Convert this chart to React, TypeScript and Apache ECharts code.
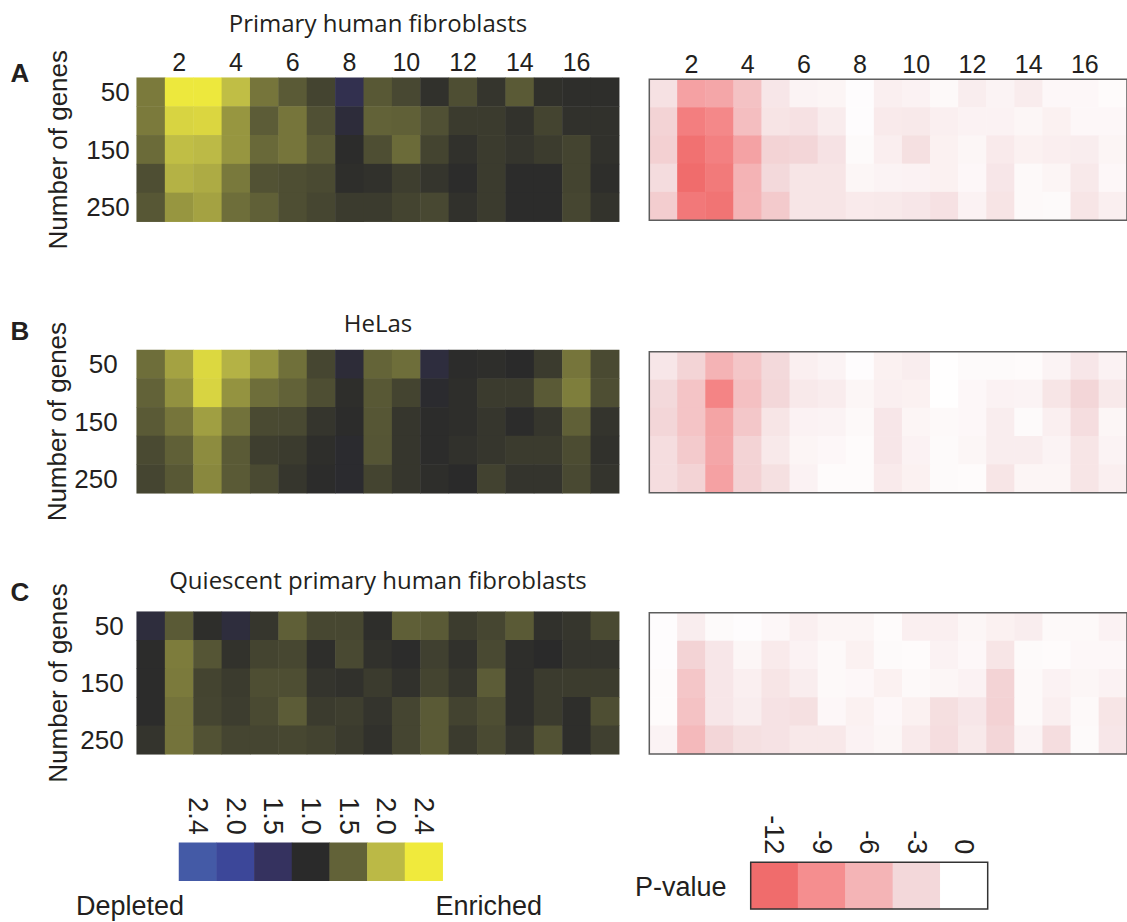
import React, { useEffect, useRef } from "react";
import * as echarts from "echarts";

// ---------- categories ----------
const COLUMNS = ["1", "2", "3", "4", "5", "6", "7", "8", "9", "10", "11", "12", "13", "14", "15", "16", "17"];
const GENE_COUNTS = ["50", "100", "150", "200", "250"];

// ---------- fold change (negative = depleted, positive = enriched) ----------
const FIBRO_FOLD = [
  [1.64, 2.38, 2.38, 2.04, 1.61, 1.43, 1.23, -1.35, 1.41, 1.27, 1.06, 1.32, 1.1, 1.43, 1.05, 1.04, 1.04],
  [1.64, 2.22, 2.24, 1.8, 1.45, 1.61, 1.34, -1.15, 1.5, 1.48, 1.34, 1.15, 1.15, 1.07, 1.23, 1.06, 1.06],
  [1.55, 2.04, 2.01, 1.8, 1.54, 1.61, 1.43, 1.02, 1.32, 1.55, 1.23, 1.06, 1.15, 1.1, 1.16, 1.23, 1.06],
  [1.32, 1.96, 1.92, 1.63, 1.36, 1.32, 1.29, 1.04, 1.06, 1.18, 1.1, 1.02, 1.15, 1.02, 1.02, 1.23, 1.04],
  [1.4, 1.8, 1.87, 1.57, 1.48, 1.32, 1.25, 1.15, 1.15, 1.23, 1.27, 1.06, 1.15, 1.02, 1.02, 1.25, 1.08],
];
const HELA_FOLD = [
  [1.57, 1.87, 2.25, 1.96, 1.78, 1.58, 1.25, -1.13, 1.51, 1.57, -1.19, 1.02, 1.04, 1.0, 1.15, 1.61, 1.29],
  [1.5, 1.77, 2.22, 1.78, 1.57, 1.5, 1.32, 1.04, 1.41, 1.23, -1.05, 1.04, 1.15, 1.15, 1.43, 1.66, 1.32],
  [1.43, 1.61, 1.85, 1.59, 1.29, 1.28, 1.1, 1.02, 1.39, 1.11, 1.02, 1.04, 1.11, 1.02, 1.11, 1.48, 1.09],
  [1.29, 1.48, 1.74, 1.43, 1.18, 1.15, 1.04, -1.05, 1.38, 1.11, 1.02, 1.06, 1.11, 1.15, 1.15, 1.3, 1.06],
  [1.24, 1.41, 1.72, 1.43, 1.29, 1.11, 1.02, -1.05, 1.23, 1.11, 1.04, 1.0, 1.21, 1.09, 1.09, 1.28, 1.09],
];
const QUIES_FOLD = [
  [-1.18, 1.43, 1.04, -1.18, 1.11, 1.47, 1.26, 1.26, 1.04, 1.47, 1.43, 1.16, 1.25, 1.43, 1.06, 1.11, 1.29],
  [1.02, 1.65, 1.38, 1.07, 1.23, 1.26, 1.04, 1.28, 1.06, 1.02, 1.2, 1.06, 1.28, 1.04, 1.0, 1.09, 1.09],
  [1.02, 1.64, 1.23, 1.15, 1.32, 1.32, 1.09, 1.06, 1.15, 1.06, 1.23, 1.11, 1.45, 1.04, 1.15, 1.16, 1.16],
  [1.02, 1.6, 1.24, 1.17, 1.29, 1.45, 1.15, 1.18, 1.09, 1.24, 1.43, 1.22, 1.32, 1.04, 1.15, 1.04, 1.32],
  [1.09, 1.6, 1.36, 1.24, 1.24, 1.26, 1.22, 1.15, 1.06, 1.24, 1.43, 1.15, 1.29, 1.09, 1.36, 1.04, 1.2],
];

// ---------- log10 P-values ----------
const FIBRO_P = [
  [-2.3, -7.5, -7.1, -4.8, -1.9, -0.9, -0.8, -0.2, -1.2, -1.0, -0.5, -1.4, -0.9, -1.5, -0.6, -0.6, -0.3],
  [-3.4, -10.4, -9.5, -5.2, -2.1, -2.3, -1.5, -0.2, -1.6, -1.7, -1.2, -1.0, -1.0, -0.7, -1.1, -0.6, -0.6],
  [-3.7, -11.6, -10.2, -7.4, -3.4, -3.2, -2.2, -0.4, -1.3, -2.4, -1.1, -0.7, -1.6, -1.1, -1.3, -1.4, -0.8],
  [-2.7, -12.0, -10.8, -6.1, -2.9, -2.0, -2.0, -0.7, -0.9, -1.0, -1.1, -0.6, -1.9, -0.5, -0.8, -1.7, -0.6],
  [-3.9, -10.9, -11.3, -6.0, -4.2, -2.0, -2.0, -1.6, -1.7, -1.9, -2.3, -1.0, -2.1, -0.5, -0.4, -2.0, -1.2],
];
const HELA_P = [
  [-1.9, -3.3, -6.1, -4.5, -2.9, -1.2, -0.9, -0.2, -1.1, -1.4, -0.1, -0.4, -0.4, -0.3, -0.9, -1.9, -1.0],
  [-2.9, -4.7, -9.9, -5.0, -3.1, -1.7, -1.5, -0.7, -1.2, -1.1, -0.1, -0.6, -1.0, -0.9, -2.0, -3.2, -1.7],
  [-3.2, -4.7, -7.3, -4.4, -2.0, -1.0, -0.9, -0.5, -1.9, -0.8, -0.5, -0.6, -1.4, -0.4, -1.2, -2.6, -0.7],
  [-2.6, -4.2, -7.1, -3.4, -1.7, -0.8, -0.6, -0.3, -1.9, -1.0, -0.4, -0.7, -1.4, -1.4, -0.9, -2.0, -0.9],
  [-2.6, -3.4, -7.5, -3.5, -2.4, -1.0, -0.3, -0.3, -1.6, -1.1, -0.4, -0.3, -2.0, -0.8, -0.8, -2.0, -1.2],
];
const QUIES_P = [
  [-0.2, -1.4, -0.4, -0.2, -0.6, -1.2, -0.8, -0.8, -0.3, -1.2, -1.2, -0.7, -1.1, -1.4, -0.5, -0.5, -1.0],
  [-0.2, -3.4, -1.9, -0.7, -1.6, -1.0, -0.5, -1.1, -0.4, -0.3, -1.0, -0.6, -2.0, -0.4, -0.3, -0.6, -0.6],
  [-0.3, -4.5, -1.9, -1.2, -2.0, -1.4, -0.5, -0.6, -1.1, -0.5, -0.7, -1.0, -3.4, -0.5, -1.0, -0.7, -1.0],
  [-0.3, -4.8, -1.9, -1.4, -2.2, -2.4, -0.6, -1.1, -0.6, -1.1, -2.5, -1.9, -3.5, -0.5, -1.2, -0.5, -2.0],
  [-0.9, -5.6, -3.2, -2.4, -2.2, -1.8, -1.8, -1.0, -0.7, -1.6, -2.6, -1.7, -3.2, -0.9, -2.6, -0.4, -1.9],
];

// ---------- legends ----------
const FOLD_TICKS = ["2.4", "2.0", "1.5", "1.0", "1.5", "2.0", "2.4"];
const FOLD_TICK_VALUES = [-2.4, -2.0, -1.5, 1.0, 1.5, 2.0, 2.4];
const FOLD_COLORS = ["#445aa6", "#3c4799", "#35325f", "#2a2a2a", "#626238", "#bbb946", "#f0ea3c"];
const P_TICKS = ["-12", "-9", "-6", "-3", "0"];
const P_TICK_VALUES = [-12, -9, -6, -3, 0];
const P_COLORS = ["#f06c6c", "#f58e8f", "#f4b4b6", "#f3d8da", "#ffffff"];

const TITLES = ["Primary human fibroblasts", "HeLas", "Quiescent primary human fibroblasts"];
const LETTERS = ["A", "B", "C"];

// fold change -> position on the (non-linear) legend scale, -3 .. 3
function foldToPos(f: number): number {
  const s = f < 0 ? -1 : 1;
  const a = Math.abs(f);
  const p = a <= 2 ? (a - 1) * 2 : 2 + (a - 2) / 0.4;
  return s * p;
}

function toCells(rows: number[][], map: (v: number) => number) {
  const out: number[][] = [];
  rows.forEach((row, r) => row.forEach((v, c) => out.push([c, r, map(v)])));
  return out;
}

const INK = "#231f20";
const NUM_FONT = "'Liberation Sans', Arial, Helvetica, sans-serif";
const TITLE_FONT = "'Open Sans', 'Noto Sans', sans-serif";

export default function App() {
  const ref = useRef<HTMLDivElement>(null);

  useEffect(() => {
    document.body.style.margin = "0";
    if (!ref.current) return;
    const chart = echarts.init(ref.current, undefined, { renderer: "svg" });

    const LX = 136.7, LW = 482.5, RX = 649.3, RW = 482.8;
    const panels = [
      { fold: FIBRO_FOLD, p: FIBRO_P, lt: 77.7, lh: 144, rt: 79.3, rh: 141, xl: true, ym: 7, title: 22.5, letter: 73 },
      { fold: HELA_FOLD, p: HELA_P, lt: 350, lh: 143.3, rt: 351.7, rh: 141, xl: false, ym: 19, title: 322, letter: 331 },
      { fold: QUIES_FOLD, p: QUIES_P, lt: 611.7, lh: 142.6, rt: 612.7, rh: 141.3, xl: false, ym: 13, title: 579, letter: 592 },
    ];

    const grid: any[] = [];
    const xAxis: any[] = [];
    const yAxis: any[] = [];
    const series: any[] = [];
    const graphic: any[] = [];

    panels.forEach((pn, i) => {
      grid.push({ left: LX, top: pn.lt, width: LW, height: pn.lh, containLabel: false });
      grid.push({
        left: RX, top: pn.rt, width: RW, height: pn.rh, containLabel: false,
        show: true, z: 10, backgroundColor: "rgba(0,0,0,0)", borderColor: "#5d5d5d", borderWidth: 1.5,
      });
      for (let k = 0; k < 2; k++) {
        xAxis.push({
          type: "category", gridIndex: 2 * i + k, data: COLUMNS, position: "top",
          axisLine: { show: false }, axisTick: { show: false }, splitLine: { show: false },
          axisLabel: {
            show: pn.xl, interval: (idx: number) => idx % 2 === 1, margin: 3,
            fontSize: 25, color: INK, fontFamily: NUM_FONT,
          },
        });
        yAxis.push({
          type: "category", gridIndex: 2 * i + k, data: GENE_COUNTS, inverse: true,
          axisLine: { show: false }, axisTick: { show: false }, splitLine: { show: false },
          axisLabel: {
            show: k === 0, interval: (idx: number) => idx % 2 === 0, margin: pn.ym,
            fontSize: 26, color: INK, fontFamily: NUM_FONT,
          },
          name: k === 0 ? "Number of genes" : "",
          nameLocation: "middle", nameRotate: 90, nameGap: 66 - (pn.ym - 7) * 0,
          nameTextStyle: { fontSize: 26, color: INK, fontFamily: NUM_FONT },
        });
      }
      series.push({
        type: "heatmap", xAxisIndex: 2 * i, yAxisIndex: 2 * i,
        data: toCells(pn.fold, foldToPos), itemStyle: { borderWidth: 0 },
      });
      series.push({
        type: "heatmap", xAxisIndex: 2 * i + 1, yAxisIndex: 2 * i + 1,
        data: toCells(pn.p, (v) => v), itemStyle: { borderWidth: 0 },
      });
      graphic.push({
        type: "text", x: LX + LW / 2, y: pn.title,
        style: { text: TITLES[i], fill: INK, font: `24px ${TITLE_FONT}`, textAlign: "center", textVerticalAlign: "middle" },
      });
      graphic.push({
        type: "text", x: 20, y: pn.letter,
        style: { text: LETTERS[i], fill: INK, font: `bold 26px ${NUM_FONT}`, textAlign: "center", textVerticalAlign: "middle" },
      });
    });

    // legend grids
    grid.push({ left: 179, top: 842.7, width: 263.7, height: 38 });
    grid.push({
      left: 750.7, top: 862.3, width: 237, height: 46.7,
      show: true, z: 10, backgroundColor: "rgba(0,0,0,0)", borderColor: "#333333", borderWidth: 1.5,
    });
    const legendX = (labels: string[], gi: number) => ({
      type: "category", gridIndex: gi, data: labels.map((_, i) => String(i)), position: "top",
      axisLine: { show: false }, axisTick: { show: false }, splitLine: { show: false },
      axisLabel: {
        interval: 0, rotate: 90, margin: 8, fontSize: 27, color: INK, fontFamily: NUM_FONT,
        formatter: (_v: string, idx: number) => labels[idx],
      },
    });
    xAxis.push(legendX(FOLD_TICKS, 6));
    xAxis.push(legendX(P_TICKS, 7));
    yAxis.push({ type: "category", gridIndex: 6, data: ["0"], show: false });
    yAxis.push({ type: "category", gridIndex: 7, data: ["0"], show: false });
    series.push({
      type: "heatmap", xAxisIndex: 6, yAxisIndex: 6,
      data: FOLD_TICK_VALUES.map((v, i) => [i, 0, foldToPos(v)]),
    });
    series.push({
      type: "heatmap", xAxisIndex: 7, yAxisIndex: 7,
      data: P_TICK_VALUES.map((v, i) => [i, 0, v]),
    });

    graphic.push({
      type: "text", x: 76, y: 906,
      style: { text: "Depleted", fill: INK, font: `27px ${NUM_FONT}`, textAlign: "left", textVerticalAlign: "middle" },
    });
    graphic.push({
      type: "text", x: 542, y: 906,
      style: { text: "Enriched", fill: INK, font: `27px ${NUM_FONT}`, textAlign: "right", textVerticalAlign: "middle" },
    });
    graphic.push({
      type: "text", x: 635, y: 887,
      style: { text: "P-value", fill: INK, font: `27px ${NUM_FONT}`, textAlign: "left", textVerticalAlign: "middle" },
    });

    chart.setOption({
      animation: false,
      backgroundColor: "#ffffff",
      grid, xAxis, yAxis, series, graphic,
      visualMap: [
        {
          type: "continuous", show: false, min: -3, max: 3, dimension: 2,
          seriesIndex: [0, 2, 4, 6], inRange: { color: FOLD_COLORS },
        },
        {
          type: "continuous", show: false, min: -12, max: 0, dimension: 2,
          seriesIndex: [1, 3, 5, 7], inRange: { color: P_COLORS },
        },
      ],
    });

    return () => chart.dispose();
  }, []);

  return <div ref={ref} style={{ width: 1127, height: 922 }} />;
}
